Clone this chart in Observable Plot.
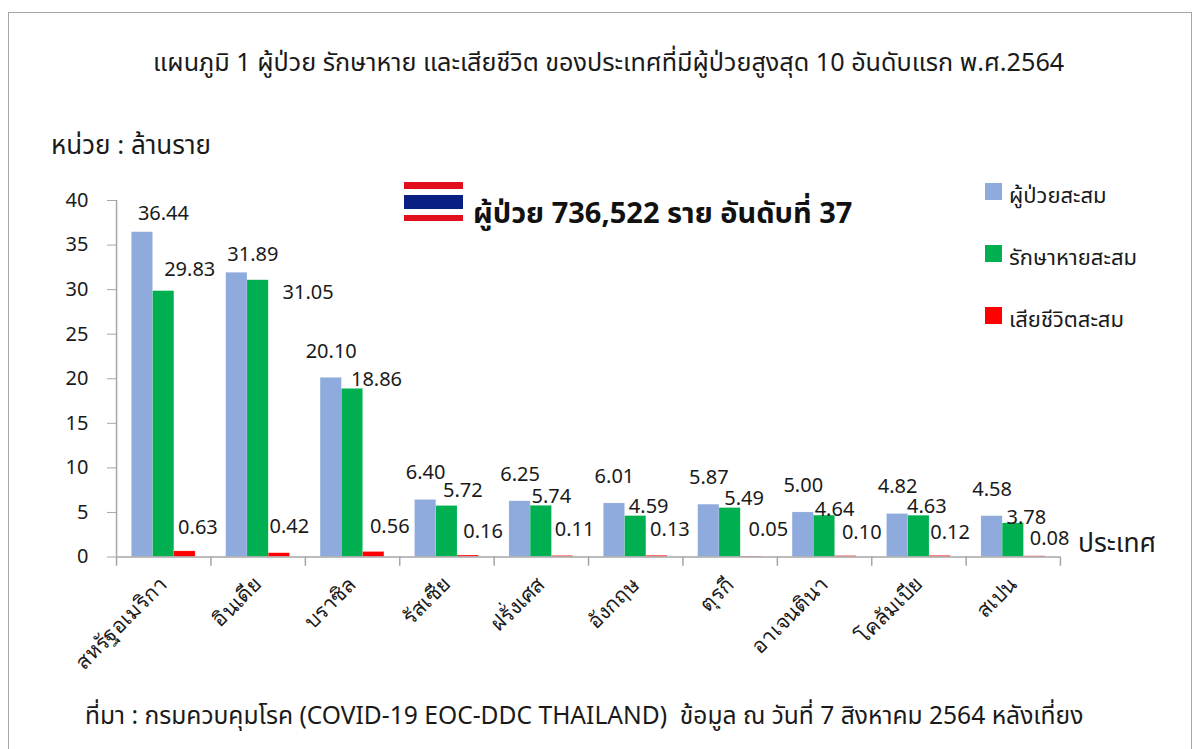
<!doctype html>
<html><head><meta charset="utf-8">
<script src="https://cdn.jsdelivr.net/npm/d3@7"></script>
<script src="https://cdn.jsdelivr.net/npm/@observablehq/plot@0.6"></script>
<style>
html,body{margin:0;background:#fff}
body{position:relative;width:1198px;height:749px;overflow:hidden;font-family:"Noto Sans","Noto Sans Thai",sans-serif;color:#1a1a1a}
#frame{position:absolute;left:8px;top:12px;width:1182px;height:760px;border:1.5px solid #a6a6a6}
.t{position:absolute;white-space:nowrap;line-height:1}
#chart{position:absolute;left:0;top:0}
.sw{position:absolute;left:985px;width:17px;height:16.5px}
.fl{position:absolute;left:404px;width:59px}
</style></head><body>
<div id="frame"></div>
<div id="chart"></div>
<div class="t" style="left:153px;top:49px;font-size:25.2px">แผนภูมิ 1 ผู้ป่วย รักษาหาย และเสียชีวิต ของประเทศที่มีผู้ป่วยสูงสุด 10 อันดับแรก พ.ศ.2564</div>
<div class="t" style="left:51px;top:131px;font-size:26px">หน่วย : ล้านราย</div>
<div class="fl" style="top:182px;height:7px;background:#e0101f"></div>
<div class="fl" style="top:195px;height:14px;background:#0a1f82"></div>
<div class="fl" style="top:215px;height:6px;background:#e0101f"></div>
<div class="t" style="left:473px;top:197px;font-size:29px;font-weight:700;color:#111">ผู้ป่วย 736,522 ราย อันดับที่ 37</div>
<div class="sw" style="top:183px;background:#8faadc"></div>
<div class="t" style="left:1009px;top:183px;font-size:22px">ผู้ป่วยสะสม</div>
<div class="sw" style="top:245px;background:#00b050"></div>
<div class="t" style="left:1009px;top:245px;font-size:22px">รักษาหายสะสม</div>
<div class="sw" style="top:307px;background:#ff0000"></div>
<div class="t" style="left:1009px;top:307px;font-size:22px">เสียชีวิตสะสม</div>
<div class="t" style="left:1078px;top:529px;font-size:26.4px">ประเทศ</div>
<div class="t" style="left:85px;top:703px;font-size:24.6px">ที่มา : กรมควบคุมโรค (COVID-19 EOC-DDC THAILAND)&nbsp; ข้อมูล ณ วันที่ 7 สิงหาคม 2564 หลังเที่ยง</div>
<script>
const countries = ["สหรัฐอเมริกา","อินเดีย","บราซิล","รัสเซีย","ฝรั่งเศส","อังกฤษ","ตุรกี","อาเจนตินา","โคลัมเบีย","สเปน"];
const seriesNames = ["ผู้ป่วยสะสม","รักษาหายสะสม","เสียชีวิตสะสม"];
const cases = [36.44,31.89,20.10,6.40,6.25,6.01,5.87,5.00,4.82,4.58];
const recovered = [29.83,31.05,18.86,5.72,5.74,4.59,5.49,4.64,4.63,3.78];
const deaths = [0.63,0.42,0.56,0.16,0.11,0.13,0.05,0.10,0.12,0.08];
const seriesColors = ["#8faadc","#00b050","#ff0000"];
const yTicks = [0,5,10,15,20,25,30,35,40];
// label nudges in px from the top centre of each bar: [dx, dy] per country
const nudgeCases = [[21,-19],[16,-18],[0,-26],[0,-27],[0,-27],[0,-27],[0,-27],[0,-27],[0,-27],[0,-27]];
const nudgeRecovered = [[26,-22],[50,12],[24,-9],[16,-15],[10,-9],[13,-9],[14,-9],[10,-6],[8,-9],[13,-6]];
const nudgeDeaths = [[13,-24],[10,-27],[16,-25],[15,-24],[12,-26],[13,-26],[17,-27],[16,-24],[10,-23],[15,-18]];

const table = [];
[cases,recovered,deaths].forEach((vals,s)=>{
  const nudges=[nudgeCases,nudgeRecovered,nudgeDeaths][s];
  vals.forEach((v,i)=>table.push({country:countries[i],series:seriesNames[s],value:v,label:v.toFixed(2),nx:nudges[i][0],ny:nudges[i][1]}));
});
const labelMarks = table.map(d=>Plot.text([d],{fx:"country",x:"series",y:"value",text:"label",dx:d.nx,dy:d.ny,fontSize:20,fill:"#1a1a1a"}));
const barSpan = 25.9;
const gridGrey = "#a6a6a6";
const chart = Plot.plot({
  width:1198,height:749,
  marginLeft:116,marginRight:138,marginTop:200,marginBottom:192.5,
  style:{background:"transparent",fontFamily:'"Noto Sans",sans-serif',overflow:"visible"},
  fx:{domain:countries,padding:0,round:false,label:null},
  x:{domain:seriesNames,paddingInner:0,paddingOuter:0.72,round:false,axis:null},
  y:{domain:[0,40],label:null},
  color:{domain:seriesNames,range:seriesColors},
  marks:[
    Plot.axisY(yTicks,{anchor:"left",tickSize:9,fontSize:20,stroke:gridGrey,color:"#1a1a1a",tickPadding:19,label:null}),
    Plot.barY(table,{fx:"country",x:"series",y:"value",fill:"series",stroke:"#fff",strokeOpacity:0.3,strokeWidth:0.5}),
    Plot.ruleY([0],{stroke:gridGrey,strokeWidth:1.5}),
    Plot.ruleX([countries[0]],{fx:d=>d,x:()=>seriesNames[0],y1:0,y2:40,dx:-barSpan,stroke:gridGrey,strokeWidth:1.5}),
    Plot.ruleX(countries,{fx:d=>d,x:()=>seriesNames[0],y1:0,y2:-1.05,dx:-barSpan,stroke:gridGrey,strokeWidth:1.5}),
    Plot.ruleX([countries[9]],{fx:d=>d,x:()=>seriesNames[2],y1:0,y2:-1.05,dx:barSpan,stroke:gridGrey,strokeWidth:1.5}),
    ...labelMarks,
    Plot.axisFx({anchor:"bottom",tickSize:0,tickRotate:-45,textAnchor:"end",fontSize:21,tickPadding:24,label:null,color:"#1a1a1a"})
  ]
});
document.getElementById("chart").append(chart);
</script>
</body></html>
